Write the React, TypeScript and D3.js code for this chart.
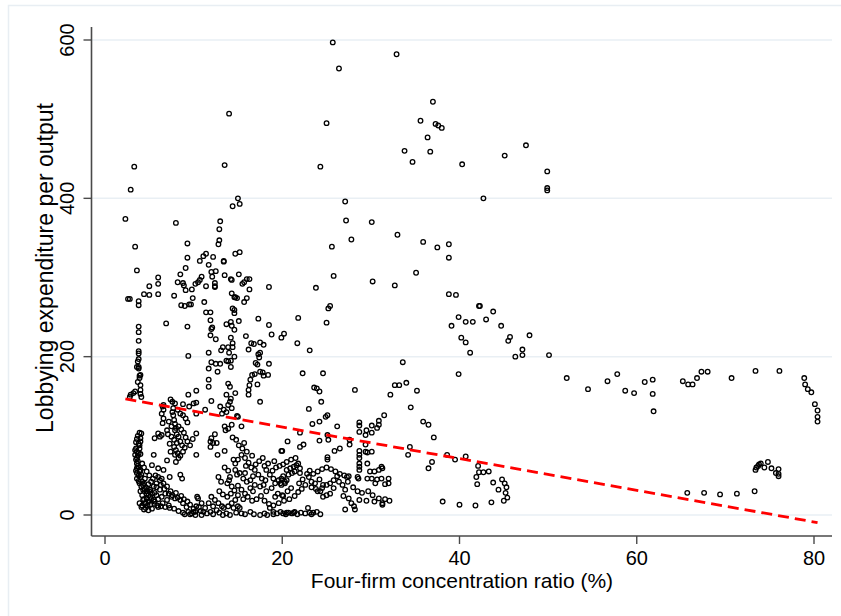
import React from "react";
import * as d3 from "d3";

// each pair: [four-firm concentration ratio (%), lobbying expenditure per output]
const upperLeft: [number, number][] = [
  [2.3, 374], [2.9, 411], [3.3, 440], [14.0, 507], [13.5, 442], [15.0, 400], [14.4, 390], [15.2, 393],
  [8.0, 369], [13.0, 371], [12.9, 361], [12.9, 347], [12.8, 342], [3.4, 339], [9.3, 343], [9.3, 325],
  [9.1, 312], [3.6, 309], [8.5, 304], [8.2, 294], [8.8, 293], [8.9, 290], [9.1, 284], [6.0, 300],
  [6.0, 292], [6.0, 279], [5.0, 289], [5.0, 278], [4.4, 279], [2.6, 273], [2.8, 273], [3.8, 270],
  [3.8, 265], [7.8, 277], [8.6, 265], [9.0, 264], [9.5, 266], [9.7, 266], [9.9, 274], [9.8, 285],
  [10.2, 292], [10.5, 294], [10.7, 297], [10.9, 301], [10.7, 321], [11.1, 327], [11.4, 330], [11.7, 316],
  [12.0, 307], [12.1, 301], [12.5, 308], [12.2, 326], [12.4, 293], [12.4, 289], [12.4, 288], [11.4, 289],
  [13.4, 321], [13.4, 320], [13.5, 303], [14.2, 298], [14.3, 297], [14.7, 330], [15.2, 332], [15.1, 304],
  [15.5, 292], [15.7, 294], [16.0, 298], [16.3, 298], [16.3, 285], [16.0, 274], [15.7, 269], [14.3, 280],
  [14.6, 275], [14.9, 274], [14.7, 275], [18.5, 288], [11.2, 269], [11.4, 256], [11.9, 256], [11.9, 246],
  [12.1, 237], [12.0, 235], [11.9, 227], [12.5, 222], [13.7, 241], [14.2, 244], [14.3, 239], [14.6, 234],
  [15.1, 245], [14.4, 261], [14.6, 255], [14.6, 259], [14.2, 224], [14.4, 217], [14.4, 212], [13.9, 212],
  [13.3, 212], [13.1, 208], [14.0, 205], [14.6, 200], [14.2, 187], [13.7, 195], [14.2, 195],
  [17.3, 248], [15.9, 226], [16.5, 217], [16.8, 216], [16.2, 209], [17.5, 218], [17.9, 215], [18.5, 240],
  [18.8, 228], [19.9, 224], [20.2, 229], [21.7, 217], [21.8, 249], [17.5, 205], [17.3, 203], [17.4, 199],
  [17.0, 192], [17.2, 190], [18.5, 191], [17.5, 181], [17.8, 180], [17.9, 176], [16.9, 178], [6.9, 242],
  [9.3, 238], [9.4, 201], [3.8, 238], [3.8, 231], [3.8, 220], [3.8, 207], [3.8, 204], [3.8, 197],
  [3.6, 187], [3.8, 185], [3.9, 176], [11.7, 205], [12.0, 193], [12.5, 191], [13.0, 191], [12.7, 181],
  [11.7, 185], [13.9, 194], [11.7, 171], [11.7, 162], [13.9, 166], [14.1, 162], [16.4, 171], [16.3, 164],
  [16.2, 158], [16.2, 152], [16.6, 177], [18.4, 177], [17.2, 165],
];

const lowerLeft: [number, number][] = [
  [3.7, 194], [3.8, 187], [4.0, 177], [3.9, 173], [3.7, 168], [4.0, 164], [4.0, 158], [2.9, 152],
  [3.2, 154], [3.4, 156], [4.0, 153], [4.1, 149], [2.8, 149], [7.4, 146], [7.6, 143], [7.9, 141],
  [6.6, 139], [6.5, 137], [6.6, 133], [6.4, 128], [6.6, 122], [6.5, 116], [8.2, 133], [8.5, 128],
  [8.8, 126], [9.1, 122], [9.3, 117], [8.8, 140], [9.4, 152], [10.3, 157], [10.0, 141], [10.3, 142],
  [9.5, 137], [7.0, 107], [7.1, 102], [7.5, 99], [7.9, 107], [8.1, 102], [8.3, 99], [7.8, 95],
  [8.1, 91], [8.5, 93], [8.7, 88], [7.8, 86], [8.0, 82], [8.2, 78], [7.9, 76], [6.0, 103],
  [5.6, 97], [6.2, 99], [6.4, 101], [4.1, 103], [4.0, 97], [4.0, 93], [3.9, 88], [5.5, 76],
  [7.0, 69], [8.0, 67], [5.3, 63], [6.0, 59], [6.6, 57], [7.3, 48], [8.5, 51], [8.7, 46],
  [3.4, 76], [3.6, 72], [3.8, 78], [4.0, 77], [3.6, 65], [3.6, 59], [3.6, 53], [3.6, 46],
  [3.9, 40], [4.1, 36], [4.3, 32], [4.7, 27], [5.1, 23], [4.9, 39], [5.5, 36], [5.8, 40],
  [6.2, 44], [6.4, 46], [6.2, 32], [6.4, 23], [6.8, 27], [7.0, 19], [7.5, 23], [7.9, 21],
  [8.5, 19], [8.8, 15], [9.2, 10], [9.4, 4], [9.8, 2], [4.1, 10], [4.5, 15], [5.1, 13],
  [5.6, 17], [6.0, 10], [5.3, 8], [4.3, 19], [4.7, 21], [5.5, 19], [5.8, 25], [5.1, 32],
  [4.5, 46], [4.1, 51], [4.0, 57], [5.3, 27], [4.9, 17], [3.5, 70], [3.7, 62], [3.5, 56],
  [3.8, 50], [3.8, 43], [4.0, 30], [4.2, 25], [4.4, 20], [4.6, 15], [4.8, 12], [3.7, 68],
  [3.4, 82], [3.5, 84], [3.9, 15], [4.2, 12], [5.0, 30], [5.6, 28], [6.0, 20], [6.5, 15],
  [7.2, 12], [7.8, 8], [8.3, 5], [8.8, 3], [9.0, 1], [5.8, 35], [6.6, 40], [7.0, 36],
  [7.4, 30], [8.0, 28], [8.6, 24], [10.3, 103], [10.3, 76], [10.4, 23], [10.6, 10], [10.0, 4],
  [9.6, 1], [10.2, 0], [10.3, 128], [13.7, 152], [14.7, 154], [12.0, 144], [11.3, 133], [13.0, 137],
  [13.4, 133], [13.2, 128], [13.7, 130], [14.1, 143], [14.2, 147], [13.9, 139], [14.3, 135], [14.9, 125],
  [15.0, 124], [15.4, 112], [14.3, 114], [13.9, 109], [13.6, 107], [13.5, 112], [17.5, 143], [12.4, 102],
  [12.0, 97], [11.9, 93], [12.2, 91], [11.9, 86], [12.6, 91], [12.7, 76], [13.5, 81], [15.7, 91],
  [20.0, 81], [14.5, 70], [14.7, 65], [15.0, 70], [15.4, 76], [15.8, 72], [16.2, 66], [14.7, 57],
  [14.9, 51], [15.2, 53], [15.6, 46], [15.8, 53], [16.0, 42], [16.4, 44], [16.7, 49], [16.9, 57],
  [17.3, 51], [17.7, 46], [18.1, 44], [18.2, 57], [18.6, 51], [19.0, 46], [19.2, 40], [19.6, 44],
  [19.9, 38], [20.3, 42], [17.5, 36], [17.9, 38], [16.9, 38], [16.4, 34], [16.7, 30], [15.8, 27],
  [15.4, 32], [15.0, 37], [18.2, 30], [18.8, 34], [19.5, 27], [20.0, 25], [19.2, 23], [14.7, 19],
  [14.3, 15], [13.9, 11], [13.7, 2], [13.2, 11], [12.8, 15], [12.4, 19], [12.2, 11], [12.0, 23],
  [11.7, 15], [11.3, 9], [10.9, 15], [10.5, 21], [10.3, 11], [10.2, 4], [11.1, 4], [10.9, 0],
  [11.9, 4], [12.6, 6], [13.4, 9], [14.5, 9], [15.0, 11], [15.4, 2], [16.4, 4], [17.5, 0],
  [18.6, 9], [19.0, 4], [19.4, 2], [19.8, 4], [20.5, 3], [21.1, 2], [21.4, 4], [14.1, 0], [15.2, 9],
];

// extra reads inside the densest blobs, bottom left
const denseLeft: [number, number][] = [
  [4.4, 40], [4.6, 35], [4.8, 30], [5.2, 42], [5.4, 46], [5.0, 50], [4.7, 55], [4.4, 60],
  [4.2, 65], [5.7, 50], [6.0, 48], [6.3, 38], [6.7, 33], [7.2, 27], [7.6, 25], [8.2, 22],
  [8.9, 20], [9.3, 17], [9.6, 13], [10.0, 8], [10.8, 5], [11.5, 2], [12.2, 1], [12.9, 3],
  [13.3, 0], [14.8, 3], [15.8, 1], [16.8, 1], [18.0, 2], [18.3, 0], [19.0, 1], [20.4, 1],
  [21.7, 1], [22.6, 2], [23.3, 1], [24.3, 1], [12.9, 30], [13.3, 26], [13.8, 23], [14.2, 27],
  [14.6, 31], [15.0, 25], [15.6, 20], [16.1, 23], [16.6, 18], [17.1, 20], [17.6, 24], [18.0, 18],
  [18.5, 14], [19.0, 12], [19.6, 15], [20.2, 18], [20.8, 20], [21.4, 24], [21.8, 29], [22.2, 33],
  [21.0, 34], [20.6, 30], [18.9, 56], [19.3, 60], [19.7, 62], [20.1, 64], [20.5, 67], [21.0, 70],
  [21.5, 72], [17.0, 64], [17.4, 68], [17.8, 72], [16.6, 75], [16.0, 80], [15.5, 84], [15.1, 88],
  [14.8, 95], [14.4, 98], [15.9, 62], [16.5, 60], [18.0, 62], [18.4, 65], [19.1, 68], [13.5, 60],
  [13.9, 56], [14.1, 48], [14.0, 44], [13.8, 40], [14.3, 36], [13.1, 42], [12.8, 48], [7.6, 130],
  [7.7, 126], [7.8, 120], [7.9, 115], [8.0, 110], [7.7, 135], [8.3, 112], [8.6, 108], [8.9, 104],
  [9.1, 98], [9.3, 93], [9.0, 85], [8.8, 80], [8.5, 75], [8.3, 72], [7.5, 112], [7.2, 118],
  [7.3, 90], [7.4, 80], [9.6, 88], [9.9, 96], [3.5, 92], [3.6, 96], [3.7, 100], [3.9, 104],
  [3.8, 90], [3.9, 84], [3.6, 80], [3.7, 75], [3.8, 60], [3.9, 55], [4.0, 48], [4.2, 42],
  [4.3, 38], [4.5, 33], [4.7, 30], [4.9, 25], [5.2, 20], [5.6, 14], [5.9, 12], [6.3, 11],
  [6.8, 10], [7.3, 9], [4.6, 9], [4.9, 6], [4.4, 7],
];

const midUpper: [number, number][] = [
  [27.1, 396], [27.2, 372], [30.1, 370], [27.8, 348], [25.6, 339], [33.0, 354], [35.9, 345], [37.5, 338],
  [38.8, 342], [38.8, 325], [25.8, 302], [23.8, 287], [30.2, 295], [32.7, 290], [35.1, 306], [25.4, 264],
  [25.2, 261], [25.0, 243], [23.1, 208], [22.3, 179], [24.6, 179], [33.6, 193], [38.8, 279], [39.6, 278],
  [39.9, 250], [39.1, 239], [40.7, 244], [41.5, 244], [42.2, 264], [40.2, 224], [40.7, 218], [41.2, 205],
  [39.9, 178], [25.7, 597], [26.4, 564], [32.9, 582], [37.0, 522], [35.6, 498], [37.3, 494], [37.6, 492],
  [38.0, 489], [36.4, 477], [33.8, 460], [36.7, 459], [34.7, 446], [25.0, 495], [24.3, 440], [40.3, 443],
  [45.1, 454], [47.5, 467], [49.9, 434], [49.9, 413], [49.9, 410], [42.7, 400], [42.3, 264], [43.8, 257],
  [43.0, 247], [44.7, 239], [45.5, 220], [45.7, 225], [47.9, 227], [47.1, 209], [47.1, 202], [46.3, 200],
  [50.1, 202],
];

const midLower: [number, number][] = [
  [23.6, 161], [23.9, 160], [24.2, 156], [24.4, 143], [23.0, 134], [28.2, 158], [32.7, 164], [33.2, 164],
  [34.0, 167], [32.2, 152], [35.2, 157], [34.5, 136], [35.9, 118], [36.5, 114], [37.1, 98], [31.5, 126],
  [30.9, 119], [30.9, 114], [30.7, 110], [30.1, 113], [30.1, 104], [29.5, 107], [28.7, 117], [28.7, 113],
  [28.7, 105], [28.7, 81], [28.7, 76], [28.7, 72], [28.7, 65], [28.7, 61], [28.7, 57], [29.4, 101],
  [29.4, 89], [29.4, 80], [29.6, 79], [30.1, 80], [29.6, 65], [29.9, 55], [30.4, 55], [30.9, 57],
  [31.2, 61], [31.3, 59], [29.6, 46], [30.1, 46], [30.7, 45], [31.2, 46], [32.0, 46], [32.0, 40],
  [31.6, 39], [30.5, 40], [28.6, 46], [28.5, 48], [27.5, 49], [27.3, 48], [27.6, 95], [27.6, 89],
  [26.2, 112], [25.1, 126], [24.9, 124], [24.2, 118], [23.4, 115], [25.1, 101], [25.2, 95], [24.2, 94],
  [26.5, 84], [25.9, 81], [25.1, 73], [25.1, 70], [26.2, 49], [25.8, 44], [25.4, 40], [25.0, 38],
  [24.6, 38], [24.5, 34], [24.3, 30], [24.0, 30], [24.6, 23], [25.0, 25], [25.4, 27], [25.8, 34],
  [27.1, 32], [26.9, 24], [27.5, 21], [27.8, 15], [28.1, 11], [27.1, 7], [28.2, 7], [28.7, 19],
  [29.5, 18], [30.4, 17], [31.3, 15], [31.3, 13], [23.3, 42], [21.9, 40], [20.1, 24], [19.8, 40],
  [20.3, 40], [20.5, 44], [20.5, 57], [20.9, 59], [21.3, 61], [21.6, 63], [21.8, 65], [22.0, 59],
  [21.4, 55], [21.1, 53], [20.7, 51], [20.1, 49], [19.9, 46], [22.0, 53], [22.0, 86], [22.4, 89],
  [19.9, 81], [20.6, 93], [22.0, 104], [20.1, 2], [20.7, 3], [21.3, 3], [22.1, 3], [22.9, 9],
  [23.1, 3], [23.5, 3], [23.9, 4], [34.2, 76], [34.4, 86], [36.5, 59], [36.9, 67], [38.1, 17],
  [38.6, 76], [39.5, 70], [40.0, 13], [40.7, 74], [41.8, 12], [42.1, 62], [41.9, 48], [42.0, 39],
  [42.2, 54], [42.7, 54], [43.3, 55], [43.8, 41], [44.4, 32], [43.6, 16], [44.8, 45], [45.1, 40],
  [45.3, 35], [45.2, 28], [45.4, 22], [45.0, 18], [23.0, 48], [23.5, 52], [24.0, 55], [24.5, 58],
  [25.0, 60], [25.5, 58], [26.0, 55], [26.5, 52], [27.0, 50], [23.3, 35], [23.8, 33], [26.4, 42],
  [26.8, 38], [27.4, 42], [28.0, 35], [28.5, 30], [29.0, 28], [29.7, 30], [30.2, 25], [30.9, 21],
  [31.6, 20], [32.1, 18], [24.2, 45], [23.7, 40], [22.6, 38], [22.3, 45], [22.8, 52], [23.1, 56],
];

const rightSide: [number, number][] = [
  [52.1, 173], [54.5, 159], [56.7, 169], [57.8, 178], [58.7, 157], [59.7, 154], [60.9, 168], [61.8, 171],
  [61.8, 153], [61.9, 131], [65.2, 169], [65.8, 165], [66.3, 165], [66.8, 173], [67.3, 181], [68.0, 181],
  [70.7, 173], [73.4, 182], [76.1, 182], [78.9, 173], [79.0, 165], [79.3, 159], [79.7, 155], [80.1, 140],
  [80.4, 132], [80.4, 124], [80.4, 118], [65.7, 28], [67.6, 28], [69.4, 26], [71.3, 27], [73.3, 30],
  [73.4, 57], [73.5, 60], [73.7, 62], [73.8, 64], [74.0, 65], [74.4, 60], [74.8, 67], [75.2, 59],
  [75.7, 53], [76.0, 58], [76.0, 49], [76.0, 52],
];

const xTicks = [0, 20, 40, 60, 80];
const yTicks = [0, 200, 400, 600];
// fitted linear line (dashed red)
const fitIntercept = 151.2;
const fitSlope = -2.0;

const xTitle = "Four-firm concentration ratio (%)";
const yTitle = "Lobbying expenditure per output";

const W = 841;
const H = 616;
const font = "'Liberation Sans', Arial, Helvetica, sans-serif";

export default function App() {
  const points = [...upperLeft, ...lowerLeft, ...denseLeft, ...midUpper, ...midLower, ...rightSide];

  const x = d3.scaleLinear().domain([0, 80]).range([105, 814]);
  const y = d3.scaleLinear().domain([0, 600]).range([515, 40]);

  const axisLeft = 91.5;
  const axisBottom = 536;
  const axisTop = 27;
  const axisRight = 832;

  const [xMin, xMax] = d3.extent(points, (d) => d[0]) as [number, number];
  const fitLine = d3
    .line<number>()
    .x((v) => x(v))
    .y((v) => y(fitIntercept + fitSlope * v));

  return (
    <svg
      width={W}
      height={H}
      style={{ position: "absolute", left: 0, top: 0, background: "#fff" }}
      fontFamily={font}
    >
      <rect x={8.5} y={5.5} width={W} height={H} fill="#fff" stroke="#e8eef3" strokeWidth={1.5} />

      {yTicks.map((t) => (
        <line key={"g" + t} x1={axisLeft} x2={axisRight} y1={y(t)} y2={y(t)} stroke="#e9eff4" strokeWidth={1.5} />
      ))}

      {points.map((d, i) => (
        <circle key={i} cx={x(d[0])} cy={y(d[1])} r={2.3} fill="none" stroke="#000" strokeWidth={1.3} />
      ))}

      <path
        d={fitLine([xMin, xMax]) ?? ""}
        fill="none"
        stroke="#ff0000"
        strokeWidth={2.8}
        strokeDasharray="11,6"
      />

      <line x1={axisLeft} x2={axisLeft} y1={axisTop} y2={axisBottom} stroke="#4a4a4a" strokeWidth={1.6} />
      <line x1={axisLeft} x2={axisRight} y1={axisBottom} y2={axisBottom} stroke="#4a4a4a" strokeWidth={1.6} />

      {yTicks.map((t) => (
        <g key={"y" + t}>
          <line x1={axisLeft - 8} x2={axisLeft} y1={y(t)} y2={y(t)} stroke="#4a4a4a" strokeWidth={1.4} />
          <text
            transform={`translate(${axisLeft - 18},${y(t)}) rotate(-90)`}
            textAnchor="middle"
            fontSize={20}
            fill="#000"
          >
            {t}
          </text>
        </g>
      ))}

      {xTicks.map((t) => (
        <g key={"x" + t}>
          <line x1={x(t)} x2={x(t)} y1={axisBottom} y2={axisBottom + 8} stroke="#4a4a4a" strokeWidth={1.4} />
          <text x={x(t)} y={565} textAnchor="middle" fontSize={20} fill="#000">
            {t}
          </text>
        </g>
      ))}

      <text x={462} y={588} textAnchor="middle" fontSize={21} fill="#000">
        {xTitle}
      </text>
      <text transform={`translate(53,268) rotate(-90)`} textAnchor="middle" fontSize={23} fill="#000">
        {yTitle}
      </text>
    </svg>
  );
}
